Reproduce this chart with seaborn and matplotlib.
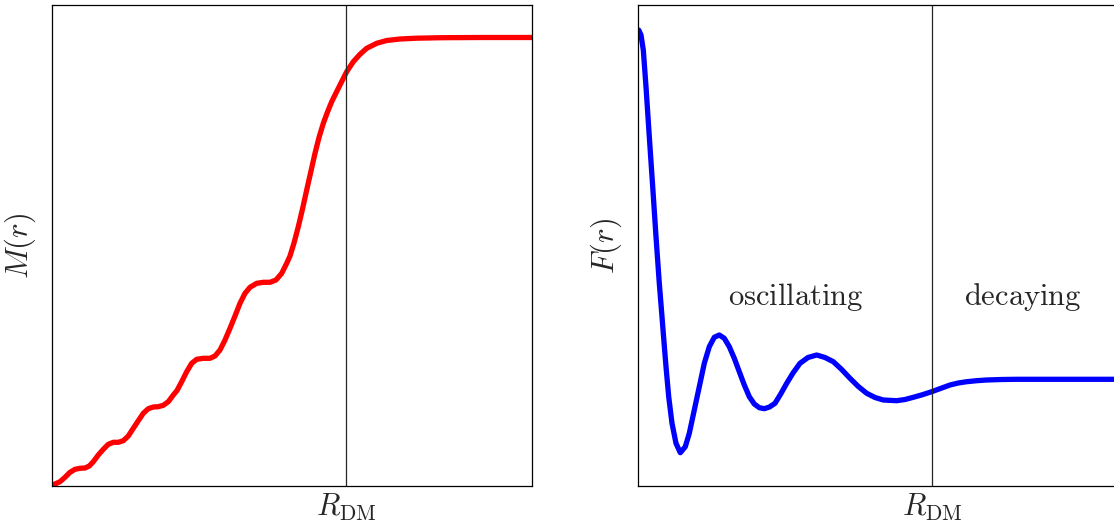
import matplotlib
matplotlib.use("Agg")
import matplotlib.pyplot as plt
import seaborn as sns
import pandas as pd

# ---- data (arbitrary units) ----
r_left = [0, 3, 8, 13, 18, 23, 28, 33, 37.3, 41.3, 46.3, 51.3, 56.3, 61.3, 66.3,
          71.3, 76.3, 81.3, 86.3, 91.3, 96.3, 101.3, 106.3, 111.3, 116.3, 121.3,
          125, 129.7, 134.7, 139.7, 144.7, 151.3, 158, 163, 168, 173, 178, 183,
          188, 193, 198, 204.7, 211.3, 218, 224, 229.7, 234.7, 238, 242, 246.3,
          250.5, 254.7, 259, 263, 267, 271.3, 275.5, 279.7, 284, 288, 294.7, 301.3,
          308, 314.7, 324.7, 334.7, 348, 364.7, 390, 430, 480]
M_left = [1, 2, 4.3, 8.7, 13.7, 16.7, 17.7, 18, 20, 24.3, 31, 36.7, 41.7, 43.7, 43.7,
          45.3, 50, 57.7, 65.3, 72.7, 77.3, 79, 79.3, 80.7, 84.3, 91,
          95.5, 104.3, 114.3, 122.7, 126.7, 127.7, 127.7, 130, 136, 146, 157.7, 170,
          182.7, 192.7, 198.7, 202.7, 203.7, 203.7, 206, 212.7, 222.7, 230, 243, 259.3,
          277, 296, 315, 332.7, 348.5, 362.7, 374, 384.3, 393, 401, 414.3, 424.3,
          431.7, 437.7, 442.7, 445.5, 447, 447.8, 448.3, 448.5, 448.5]

r_right = [0, 0.7, 3, 5.3, 8, 11.3, 14.7, 18, 21.3, 24, 25.3, 28, 30.7, 34, 38,
           42.3, 47.3, 51.3, 56.3, 61.3, 66.3, 71.3, 76.3, 81.3, 86.3, 91.3, 96.3,
           101.3, 106.3, 111.3, 116.3, 121.3, 126.3, 131.5, 137, 142.7, 148.7, 155,
           162, 170, 178.7, 187, 195.3, 203.7, 212, 220.3, 228.7, 237, 245.3, 258.7,
           267, 275.3, 284.5, 293.7, 303, 312, 320.3, 328.7, 338.7, 348.7, 363.7,
           378.7, 420, 480]
F_right = [454, 456, 451, 436, 399.3, 349.3, 299.3, 249.3, 202.7, 169.3, 152.7, 119.3,
           89.3, 62.7, 42.7, 33.3, 39.3, 52.7, 76, 99.3, 122.7, 139.3, 148.7, 151,
           147.7, 139.3, 127.7, 114.3, 101, 89.3, 82, 78.3, 77.3, 79, 82.7, 92, 102.7,
           113, 122.7, 128.5, 131, 128.5, 124.3, 116.5, 107.7, 99.5, 92.7, 88.5, 86,
           85.3, 86.5, 88.7, 91.3, 94.3, 97.7, 101, 103, 104.3, 105.3, 106, 106.5,
           106.7, 106.7, 106.7]

R_DM = 294
x_max = 480
y_max = 481
region_labels = ["oscillating", "decaying"]
region_x = [158, 385]
region_y = 189

df_left = pd.DataFrame({"r": r_left, "M": M_left})
df_right = pd.DataFrame({"r": r_right, "F": F_right})

sns.set_style("white")
plt.rcParams["mathtext.fontset"] = "cm"
plt.rcParams["font.family"] = ["DejaVu Serif"]

W, H = 1114, 527
fig = plt.figure(figsize=(W / 100, H / 100), dpi=100)
ax1 = fig.add_axes([52 / W, (H - 486) / H, 480 / W, 481 / H])
ax2 = fig.add_axes([638 / W, (H - 486) / H, 480 / W, 481 / H])

sns.lineplot(data=df_left, x="r", y="M", ax=ax1, color="#ff0000", linewidth=3.8,
             sort=False, estimator=None, solid_joinstyle="round",
             solid_capstyle="round")
sns.lineplot(data=df_right, x="r", y="F", ax=ax2, color="#0000ff", linewidth=3.8,
             sort=False, estimator=None, solid_joinstyle="round",
             solid_capstyle="round")

fs = 22
for ax, lab in [(ax1, r"$M(r)$"), (ax2, r"$F(r)$")]:
    ax.set_xlim(0, x_max)
    ax.set_ylim(0, y_max)
    ax.axvline(R_DM, color="0.15", linewidth=0.9)
    ax.set_xticks([R_DM])
    ax.set_xticklabels([r"$R_{\rm DM}$"], fontsize=fs)
    ax.set_yticks([])
    ax.tick_params(axis="x", length=0, pad=4)
    ax.set_xlabel("")
    ax.set_ylabel(lab, fontsize=fs, labelpad=10)
    for s in ax.spines.values():
        s.set_visible(True)
        s.set_color("black")
        s.set_linewidth(0.9)

for lab, xr in zip(region_labels, region_x):
    ax2.text(xr, region_y, r"$\mathrm{" + lab + "}$", fontsize=fs, ha="center",
             va="center")

fig.savefig("out.png", dpi=100)
